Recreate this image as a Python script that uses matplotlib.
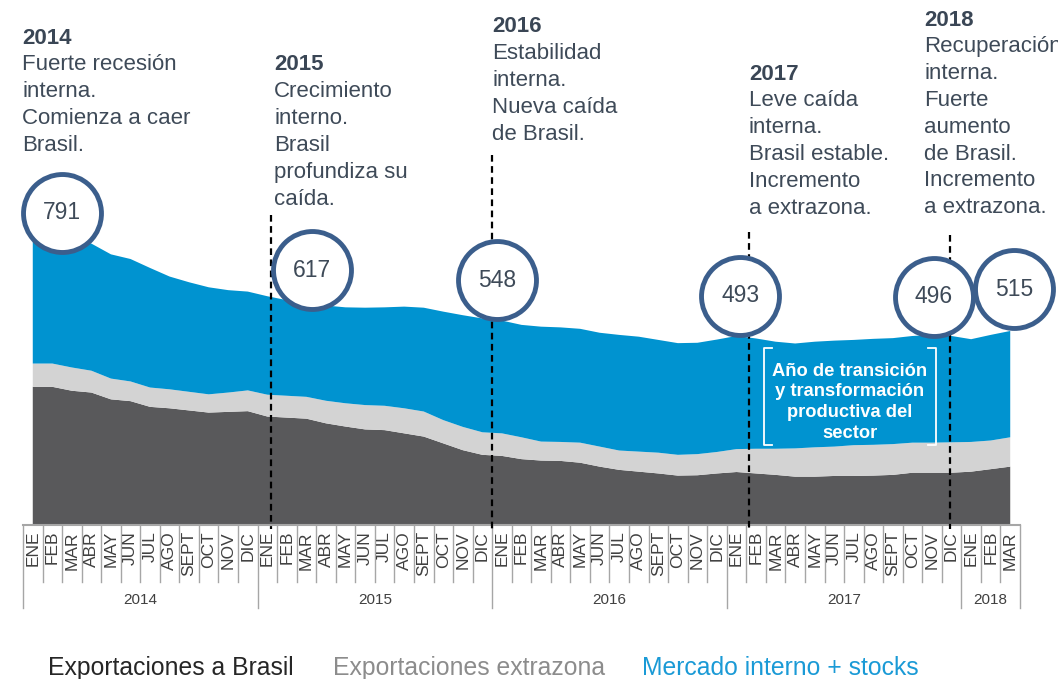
import numpy as np
import matplotlib.pyplot as plt

plt.rcParams['font.family'] = ['Liberation Sans', 'DejaVu Sans']

# monthly series (thousand t)
meses = ['ENE', 'FEB', 'MAR', 'ABR', 'MAY', 'JUN', 'JUL', 'AGO', 'SEPT', 'OCT', 'NOV', 'DIC']
anios = ['2014', '2015', '2016', '2017', '2018']
meses_por_anio = [12, 12, 12, 12, 3]

brasil = [386, 386, 375, 370, 351, 346, 330, 326, 320, 314, 316, 318,
          303, 300, 297, 284, 275, 267, 265, 256, 247, 228, 209, 196,
          193, 184, 180, 179, 174, 163, 154, 149, 144, 138, 139, 144,
          148, 144, 140, 135, 135, 137, 137, 138, 140, 146, 146, 146,
          149, 156, 163]
extrazona = [65, 65, 65, 61, 58, 55, 54, 53, 52, 51, 54, 58,
             61, 61, 61, 63, 65, 68, 68, 70, 70, 65, 65, 63,
             63, 61, 53, 53, 56, 56, 54, 56, 58, 58, 59, 60,
             64, 69, 73, 79, 82, 82, 86, 86, 86, 84, 84, 85,
             83, 80, 82]
mercado = [340, 340, 351, 355, 347, 342, 334, 315, 306, 299, 286, 276,
           275, 267, 262, 266, 268, 272, 275, 284, 290, 303, 312, 318,
           315, 314, 321, 320, 318, 318, 323, 321, 315, 312, 311, 314,
           316, 308, 299, 293, 295, 296, 294, 296, 296, 298, 301, 297,
           287, 295, 297]

# circled totals: label, month index, height
circ_lbl = ['791', '617', '548', '493', '496', '515']
circ_x = [1.5, 14.3, 23.75, 36.2, 46.1, 50.2]
circ_y = [872, 712, 684, 640, 637, 659]

# dashed year markers: month index, top height
marca_x = [12.2, 23.47, 36.65, 46.9]
marca_top = [866, 1033, 818, 810]

notas = [
    ('2014', ['Fuerte recesión', 'interna.', 'Comienza a caer', 'Brasil.'], 22, 38),
    ('2015', ['Crecimiento', 'interno.', 'Brasil', 'profundiza su', 'caída.'], 274, 65),
    ('2016', ['Estabilidad', 'interna.', 'Nueva caída', 'de Brasil.'], 492, 27),
    ('2017', ['Leve caída', 'interna.', 'Brasil estable.', 'Incremento', 'a extrazona.'], 749, 74),
    ('2018', ['Recuperación', 'interna.', 'Fuerte', 'aumento', 'de Brasil.', 'Incremento', 'a extrazona.'], 924, 20),
]

W, H = 1058, 679
base_px = 525
k = 0.358  # px per unit

c_brasil = '#59595b'
c_extra = '#d3d3d3'
c_merc = '#0093d0'
c_circ = '#3b5e8c'
c_txt = '#3e4a58'

fig = plt.figure(figsize=(W / 100, H / 100), dpi=100)
ax = fig.add_axes([23 / W, (H - base_px) / H, 997 / W, base_px / H])
n = len(brasil)
x = np.arange(n)
ax.stackplot(x, brasil, extrazona, mercado, colors=[c_brasil, c_extra, c_merc], lw=0)
ax.set_xlim(-0.5, n - 0.5)
ax.set_ylim(0, base_px / k)
ax.axis('off')


def ay(ypx):
    return (base_px - ypx) / base_px


tr = ax.get_xaxis_transform()
ax.plot([-0.5, n - 0.5], [0, 0], transform=tr, color='#a6a6a6', lw=1.5, clip_on=False)

# month / year axis
i = 0
for anio, m in zip(anios, meses_por_anio):
    ax.plot([i - 0.5, i - 0.5], [0, ay(608)], transform=tr, color='#a6a6a6', lw=1, clip_on=False)
    for j in range(m):
        if j > 0:
            ax.plot([i + j - 0.5, i + j - 0.5], [0, ay(582)], transform=tr,
                    color='#a6a6a6', lw=1, clip_on=False)
        ax.text(i + j, ay(531), meses[j], transform=tr, rotation=90, ha='center', va='top',
                fontsize=12.5, color='#404040')
    ax.text(i + m / 2 - 0.5, ay(600), anio, transform=tr, ha='center', va='center',
            fontsize=11, color='#404040')
    i += m
ax.plot([n - 0.5, n - 0.5], [0, ay(608)], transform=tr, color='#a6a6a6', lw=1, clip_on=False)

# dashed markers
for mx, mt in zip(marca_x, marca_top):
    ax.plot([mx, mx], [mt, -12], color='black', lw=1.6, ls=(0, (3, 2)), clip_on=False, zorder=3)

# circles
ax.scatter(circ_x, circ_y, s=3150, facecolor='white', edgecolor=c_circ, linewidth=3.5,
           zorder=5, clip_on=False)
for lb, cx, cy in zip(circ_lbl, circ_x, circ_y):
    ax.text(cx, cy, lb, ha='center', va='center', fontsize=16.5, color=c_txt, zorder=6)

# bracket box
bx0, bx1 = 37.4, 46.2
by0, by1 = (base_px - 445) / k, (base_px - 348) / k
tick = 0.4
ax.plot([bx0 + tick, bx0, bx0, bx0 + tick], [by1, by1, by0, by0], color='white', lw=1.3, zorder=4)
ax.plot([bx1 - tick, bx1, bx1, bx1 - tick], [by1, by1, by0, by0], color='white', lw=1.3, zorder=4)
ax.text((bx0 + bx1) / 2, 343,
        'Año de transición\ny transformación\nproductiva del\nsector',
        ha='center', va='center', color='white', fontsize=13.2, fontweight='bold',
        linespacing=1.28, zorder=4)

# text notes
lh = 26.8
for anio, lineas, px, py in notas:
    fig.text(px / W, 1 - py / H, anio, ha='left', va='center', fontsize=16,
             fontweight='bold', color='#3a4655')
    for q, ln in enumerate(lineas):
        fig.text(px / W, 1 - (py + lh * (q + 1)) / H, ln, ha='left', va='center',
                 fontsize=16, color=c_txt)

# legend
for lb, col, px in [('Exportaciones a Brasil', '#262626', 48),
                    ('Exportaciones extrazona', '#8c8c8c', 333),
                    ('Mercado interno + stocks', '#1a9ad6', 642)]:
    fig.text(px / W, 1 - 668 / H, lb, ha='left', va='center', fontsize=17.8, color=col)

fig.savefig('out.png', dpi=100)
